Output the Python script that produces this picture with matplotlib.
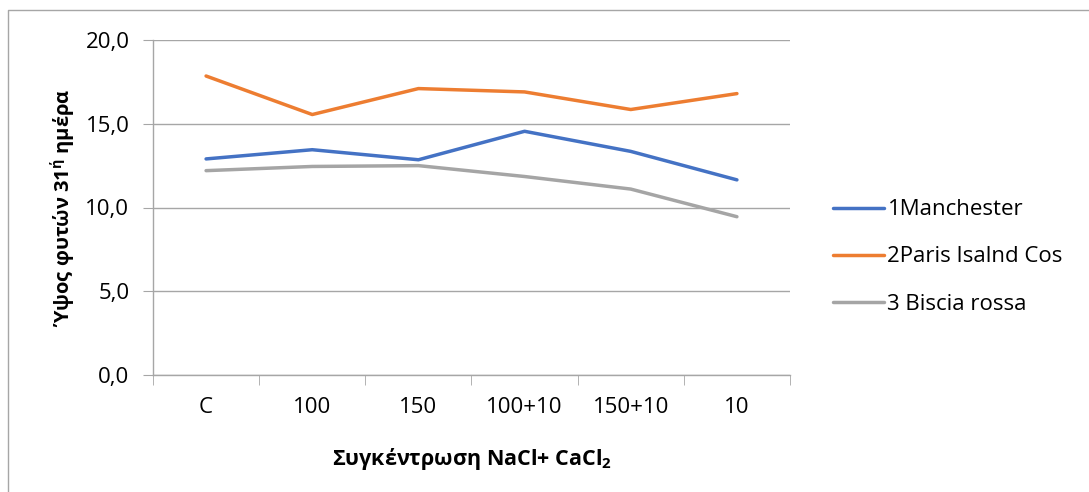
import matplotlib
matplotlib.use("Agg")
import matplotlib.pyplot as plt
from matplotlib.lines import Line2D
from matplotlib.ticker import FuncFormatter

plt.rcParams['font.family'] = ['Open Sans', 'DejaVu Sans']
plt.rcParams['mathtext.fontset'] = 'custom'
plt.rcParams['mathtext.rm'] = 'Open Sans'
plt.rcParams['mathtext.bf'] = 'Open Sans:bold'

categories = ['C', '100', '150', '100+10', '150+10', '10']
manchester = [12.9, 13.45, 12.85, 14.55, 13.35, 11.65]
paris = [17.85, 15.55, 17.1, 16.9, 15.85, 16.8]
biscia = [12.2, 12.45, 12.5, 11.85, 11.1, 9.45]
series_names = ['1Manchester', '2Paris Isalnd Cos', '3 Biscia rossa']
colors = ['#4472C4', '#ED7D31', '#A5A5A5']

W, H = 1089, 492
fig = plt.figure(figsize=(W / 100, H / 100), dpi=100)
ax = fig.add_axes([153 / W, 1 - 375 / H, 637 / W, 335 / H])

x = list(range(len(categories)))
for vals, name, c in zip([manchester, paris, biscia], series_names, colors):
    ax.plot(x, vals, color=c, lw=2.5, label=name, solid_capstyle='round')

ax.set_xlim(-0.5, len(categories) - 0.5)
ax.set_ylim(0, 20)
ax.set_yticks([0, 5, 10, 15, 20])
ax.yaxis.set_major_formatter(FuncFormatter(lambda v, p: f'{v:.1f}'.replace('.', ',')))
ax.set_xticks(x)
ax.set_xticklabels(categories)
ax.set_xticks([i - 0.5 for i in range(len(categories) + 1)], minor=True)

grid_c = '#A6A6A6'
ax.grid(axis='y', color=grid_c, lw=1)
ax.set_axisbelow(True)
for s in ['top', 'right']:
    ax.spines[s].set_visible(False)
for s in ['left', 'bottom']:
    ax.spines[s].set_color(grid_c)
    ax.spines[s].set_linewidth(1)

ax.tick_params(axis='y', length=7, color=grid_c, labelsize=16, pad=10)
ax.tick_params(axis='x', which='major', length=0, labelsize=16, pad=16)
ax.tick_params(axis='x', which='minor', length=7, color=grid_c)

ax.set_ylabel('Ύψος φυτών 31$^{\\mathbf{ή}}$ ημέρα', fontsize=14.5, fontweight='bold', labelpad=5)
ax.set_xlabel('Συγκέντρωση NaCl+ CaCl$_{\\mathbf{2}}$', fontsize=15.5, fontweight='bold', labelpad=20)

fig.legend(loc='center left', bbox_to_anchor=(813 / W, 1 - 257 / H), frameon=False,
           fontsize=16, handlelength=2.3, handletextpad=0.15, labelspacing=1.18)

# chart area outline
fig.add_artist(Line2D([8 / W, 8 / W, 1], [0, 1 - 10 / H, 1 - 10 / H],
                      transform=fig.transFigure, color='#A6A6A6', lw=1))

fig.savefig('out.png', dpi=100)
